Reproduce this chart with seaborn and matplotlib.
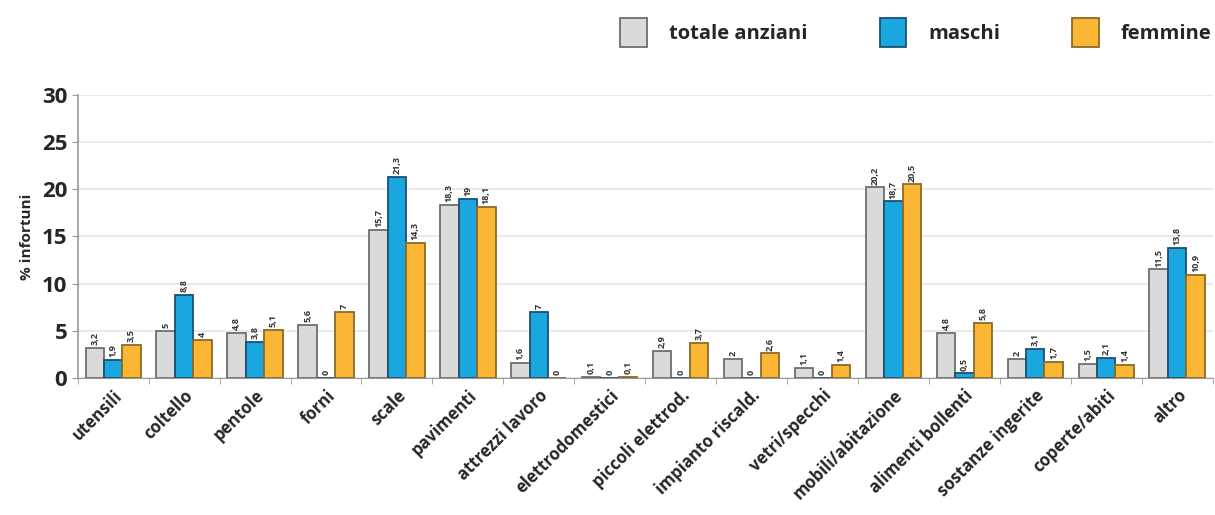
import pandas as pd
import numpy as np
import matplotlib.pyplot as plt
import seaborn as sns
from matplotlib.patches import Patch

# ==================== dati ====================
categorie = ['utensili', 'coltello', 'pentole', 'forni', 'scale', 'pavimenti',
             'attrezzi lavoro', 'elettrodomestici', 'piccoli elettrod.',
             'impianto riscald.', 'vetri/specchi', 'mobili/abitazione',
             'alimenti bollenti', 'sostanze ingerite', 'coperte/abiti', 'altro']
totale = [3.2, 5, 4.8, 5.6, 15.7, 18.3, 1.6, 0.1, 2.9, 2, 1.1, 20.2, 4.8, 2, 1.5, 11.5]
maschi = [1.9, 8.8, 3.8, 0, 21.3, 19, 7, 0, 0, 0, 0, 18.7, 0.5, 3.1, 2.1, 13.8]
femmine = [3.5, 4, 5.1, 7, 14.3, 18.1, 0, 0.1, 3.7, 2.6, 1.4, 20.5, 5.8, 1.7, 1.4, 10.9]
serie = ['totale anziani', 'maschi', 'femmine']

df = pd.DataFrame({'categoria': categorie * 3,
                   'gruppo': sum([[s] * len(categorie) for s in serie], []),
                   'valore': totale + maschi + femmine})

colori = {'totale anziani': '#dadada', 'maschi': '#1aa7e0', 'femmine': '#fbb633'}
bordi = {'totale anziani': '#6e6e6e', 'maschi': '#1d4f75', 'femmine': '#8a6a2a'}

# ==================== grafico ====================
sns.set_style('white')
plt.rcParams['font.family'] = ['Open Sans', 'DejaVu Sans']

fig = plt.figure(figsize=(12.15, 5.15), dpi=100)
ax = fig.add_axes([0.064, 0.266, 0.934, 0.55])

sns.barplot(data=df, x='categoria', y='valore', hue='gruppo', order=categorie,
            hue_order=serie, palette=colori, saturation=1, width=0.78, gap=0.0,
            linewidth=1.3, ax=ax, legend=False)

for cont, s in zip(ax.containers, serie):
    for p in cont:
        p.set_edgecolor(bordi[s])
    lab = [('%g' % v).replace('.', ',') for v in cont.datavalues]
    ax.bar_label(cont, labels=lab, rotation=90, fontsize=6.5, padding=2,
                 color='#333333', fontweight='bold')

ax.set_ylim(0, 30)
ax.set_xlim(-0.5, len(categorie) - 0.5)
ax.set_yticks(range(0, 31, 5))
ax.yaxis.grid(True, color='#e6e6e6', linewidth=1.2)
ax.set_axisbelow(True)
for k in ['top', 'right']:
    ax.spines[k].set_visible(False)
ax.spines['left'].set_color('#999999')
ax.spines['bottom'].set_color('#999999')
ax.spines['left'].set_linewidth(1.2)

ax.tick_params(axis='y', left=True, length=4, color='#999999', labelsize=16)
for t in ax.get_yticklabels():
    t.set_fontweight('bold')
ax.set_xticks(range(len(categorie)))
ax.set_xticklabels(categorie, rotation=45, ha='right', rotation_mode='anchor',
                   fontsize=12, fontweight='bold')
ax.tick_params(axis='x', which='major', length=0, pad=6)
ax.set_xticks(np.arange(-0.5, len(categorie), 1), minor=True)
ax.tick_params(axis='x', which='minor', length=4, color='#999999', bottom=True)

ax.set_xlabel('')
ax.set_ylabel('% infortuni', fontsize=11, fontweight='bold', labelpad=6)

maniglie = [Patch(facecolor=colori[s], edgecolor=bordi[s], linewidth=1.3) for s in serie]
fig.legend(maniglie, serie, loc='upper right', bbox_to_anchor=(1.012, 1.0), ncol=3,
           frameon=False, handlelength=1.3, handleheight=1.8, columnspacing=3.6,
           handletextpad=1.1, prop={'size': 14.5, 'weight': 'bold'})

plt.savefig('out.png', dpi=100)
plt.close()
